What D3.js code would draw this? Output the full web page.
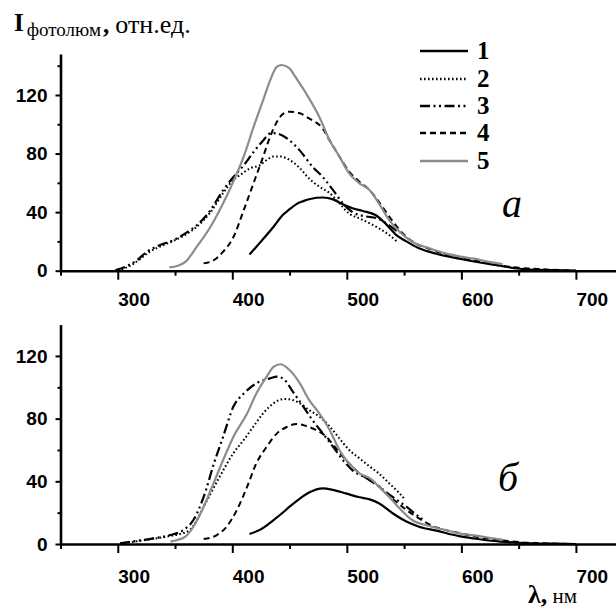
<!DOCTYPE html>
<html>
<head>
<meta charset="utf-8">
<script src="https://cdn.jsdelivr.net/npm/d3@7"></script>
<style>
body { margin: 0; background: #fff; }
svg { display: block; }
</style>
</head>
<body>
<div id="graph"></div>
<script>
// series labels and tick values
var seriesNames = ["1", "2", "3", "4", "5"]
var xTicks = [300, 400, 500, 600, 700]
var xMinor = [250, 350, 450, 550, 650]
var yTicks = [0, 40, 80, 120]
var yMinorA = [20, 60, 100, 140]
var yMinorB = [20, 60, 100]

// panel "a": [wavelength, intensity]
var a1 = [[415,11],[424,19],[436,30],[444,38],[450,42],[456,45.5],[462,47.5],[468,49],[479,50],[488,48.7],[496,45.5],[505,42.6],[514,40.8],[525,38],[534,32],[543,24.5],[552,20],[563,15.3],[578,11.6],[598,8.2],[611,6.3],[634,3.4],[649,1.5],[669,0.5],[692,0.2],[700,0]]
var a2 = [[300,0.3],[310,3],[318,7],[326,12],[337,16.5],[349,20.5],[360,25],[369,30],[381,40],[392,53],[401,62],[408,66],[415.6,70],[424,72],[430,75.6],[436,78],[442,78],[450,75.6],[459,70],[467,63],[476,57.4],[485,53],[493.5,46],[502,39],[511,35.7],[520,32.3],[528,29],[537,24.4],[544,19.8]]
var a3 = [[298,0.5],[308,3.2],[317,7.3],[325.5,13],[337,17.5],[349,21],[360,26],[369,31],[381,41.4],[392,55],[401,64],[410,72],[418.5,81],[427,89],[434,94],[440,93.5],[450,89],[459,82],[470,71],[479,64],[488,55],[496.5,46],[505,40],[517,37],[525.5,36],[537,31],[546,25.5]]
var a4 = [[375,5],[384,7.3],[392,13],[401,23],[410,41.4],[418.5,59.7],[427,78],[433,91.5],[439,101.8],[445,107.5],[450,108.6],[459,107.5],[467,104],[479,97],[485,89],[493.5,78],[502,67.6],[511,60.8],[520,55],[528,47],[537,37],[546,27.8],[557,20],[572,15],[598,8.6],[611,7],[634,3.5],[650,2],[670,1],[700,0]]
var a5 = [[345,2.3],[352,3.2],[359,6],[369,16.4],[381,30],[392,46],[401,61],[410,78],[418.5,98],[427,116.6],[433,130],[439,139.3],[443,140.5],[450,138.2],[454,133.6],[464.5,121],[476,105],[485,89],[493.5,78],[502,66.5],[511,59.7],[520,55],[528,46],[537,34.6],[546,26.6],[557,19.8],[572,15.3],[586,11.8],[598,9.8],[611,8.2],[623,6.2],[636,4.6]]

// panel "б"
var b1 = [[415,6.4],[424,9],[436,15.3],[445,20.6],[450,23.8],[459,29],[467,32.8],[479,35.5],[488,34.5],[499,32.3],[511,29.8],[520,28.5],[528,26],[540,19.6],[552,14.3],[563,11],[578,8.5],[598,5],[611,3.5],[634,1.5],[650,0.8],[680,0.2],[700,0]]
var b2 = [[302,0.3],[317,1.8],[331,3.3],[346,5.2],[355,6.5],[363,9],[378,28],[389,43],[401,58],[410,66.4],[418.5,75],[427,83.4],[436,89.8],[445,92.5],[450,92.3],[459,89.8],[467,85.5],[476,81.3],[485,75],[493.5,67.4],[502,60],[511,54.7],[520,49.4],[528,45],[537,38.7],[546,32.3],[550,29]]
var b3 = [[302,0.4],[317,2],[331,3.6],[346,5.7],[357.5,9],[366,15.3],[375,30],[384,51.5],[392,68.5],[401,87.7],[410,96],[421,102.5],[433,105.7],[439,106.8],[445,105.2],[453,97],[462,87.7],[470,79],[479,70.6],[488,62],[496.5,53.6],[505,47],[517,42],[528,36.6],[540,30],[552,23.8],[563,17.4],[566,16]]
var b4 = [[375,3.2],[386.5,5.7],[395,11],[404,21.7],[413,36.6],[421,51.5],[430,62],[439,70.6],[447,74.5],[456,76.6],[464.5,75.3],[473,72.8],[482,68.5],[490.6,61],[499,53.6],[508,47],[517,42],[525.5,38.7],[534,32.3],[543,27],[552,21.7],[563,16.4],[572,12.5],[598,7],[611,5],[634,2.5],[650,1.2],[670,0.5],[700,0]]
var b5 = [[346,1.5],[352,2.6],[359,4.7],[366,11],[375,23.8],[383.6,38.7],[392,53.6],[401,68.5],[413,83.4],[421,96],[430,106.8],[436,113],[442,114.7],[450,111],[459,102.5],[467,92],[476,83.4],[485,72.8],[493.5,60],[502,51.5],[511,45],[520,42],[528,36.6],[537,30],[546,22.8],[557,15.3],[572,11.5],[586,8.9],[598,6.8],[611,5.5],[634,3],[636,2.8]]

var width = 616, height = 611
var svg = d3.select("#graph").append("svg").attr("width", width).attr("height", height)

var styles = [
    {stroke: "#000", dash: null, w: 2.2},
    {stroke: "#000", dash: "1.6,2.4", w: 2},
    {stroke: "#000", dash: "10,3.5,2,3.5,2,3.5", w: 2.2},
    {stroke: "#000", dash: "6,4", w: 2},
    {stroke: "#8c8c8c", dash: null, w: 2.2}
]

var tickFont = "bold 19px 'Liberation Sans', Arial, sans-serif"

var x = d3.scaleLinear().domain([250, 735]).range([60.5, 616])

function drawPanel(p) {
    var g = svg.append("g")
    var y = p.y

    // curves
    var line = d3.line()
        .x(function(d) { return x(d[0]) })
        .y(function(d) { return y(d[1]) })
        .curve(d3.curveMonotoneX)

    g.selectAll("path.curve")
        .data(p.series)
        .enter().append("path")
        .attr("class", "curve")
        .attr("d", line)
        .attr("fill", "none")
        .attr("stroke", function(d, i) { return styles[i].stroke })
        .attr("stroke-width", function(d, i) { return styles[i].w })
        .attr("stroke-dasharray", function(d, i) { return styles[i].dash })

    // x axis, minor ticks first
    g.append("g")
        .attr("transform", "translate(0," + y(0) + ")")
        .call(d3.axisBottom(x).tickValues(xMinor).tickSize(5).tickSizeOuter(0).tickFormat(""))
        .call(function(a) { a.select(".domain").remove() })
        .selectAll("line").attr("stroke-width", 2)

    var xa = g.append("g")
        .attr("transform", "translate(0," + y(0) + ")")
        .call(d3.axisBottom(x).tickValues(xTicks).tickSize(9).tickSizeOuter(0))
    xa.select(".domain").attr("stroke-width", 2.6)
    xa.selectAll("line").attr("stroke-width", 2)
    xa.selectAll("text")
        .attr("y", p.xLabelY)
        .attr("dy", null)
        .attr("x", 0)
        .attr("text-anchor", "start")
        .style("font", tickFont)

    // y axis
    g.append("g")
        .attr("transform", "translate(" + x(250) + ",0)")
        .call(d3.axisLeft(y).tickValues(p.yMinor).tickSize(3).tickSizeOuter(0).tickFormat(""))
        .call(function(a) { a.select(".domain").remove() })
        .selectAll("line").attr("stroke-width", 2)

    var ya = g.append("g")
        .attr("transform", "translate(" + x(250) + ",0)")
        .call(d3.axisLeft(y).tickValues(yTicks).tickSize(5).tickPadding(8).tickSizeOuter(0))
    ya.select(".domain").attr("stroke-width", 2.6)
    ya.selectAll("line").attr("stroke-width", 2)
    ya.selectAll("text")
        .style("font", tickFont)

    // panel letter
    g.append("text")
        .attr("x", p.letterX).attr("y", p.letterY)
        .style("font", "italic 40px 'Liberation Serif', 'Times New Roman', serif")
        .text(p.letter)
}

drawPanel({
    y: d3.scaleLinear().domain([0, 148]).range([270.7, 54]),
    series: [a1, a2, a3, a4, a5],
    yMinor: yMinorA,
    xLabelY: 35,
    letter: "a", letterX: 502, letterY: 217
})

drawPanel({
    y: d3.scaleLinear().domain([0, 140]).range([544, 324.6]),
    series: [b1, b2, b3, b4, b5],
    yMinor: yMinorB,
    xLabelY: 39,
    letter: "б", letterX: 498, letterY: 491
})

// legend
var legendY = [51, 79, 106, 133, 161]
var legend = svg.append("g").selectAll("g")
    .data(seriesNames)
    .enter().append("g")
    .attr("transform", function(d, i) { return "translate(0," + legendY[i] + ")" })

legend.append("line")
    .attr("x1", 420).attr("x2", 468)
    .attr("stroke", function(d, i) { return styles[i].stroke })
    .attr("stroke-width", function(d, i) { return styles[i].w + 0.3 })
    .attr("stroke-dasharray", function(d, i) { return styles[i].dash })

legend.append("text")
    .attr("x", 477).attr("y", 8)
    .style("font", "bold 25px 'Liberation Serif', 'Times New Roman', serif")
    .text(function(d) { return d })

// y title
var title = svg.append("text").attr("y", 31)
    .style("font-family", "'Liberation Serif', 'Times New Roman', serif")
title.append("tspan").attr("x", 14).style("font-weight", "bold").style("font-size", "25px").text("I")
title.append("tspan").attr("dx", 3).attr("dy", 5).style("font-size", "19px").text("фотолюм")
title.append("tspan").attr("dx", 2).attr("dy", -3).style("font-size", "25px").style("font-weight", "bold").text(",")
title.append("tspan").attr("dx", 6).style("font-size", "26px").text("отн.ед.")

// x title
var xt = svg.append("text").attr("x", 528).attr("y", 603)
    .style("font-family", "'Liberation Serif', 'Times New Roman', serif")
xt.append("tspan").style("font-weight", "bold").style("font-size", "26px").text("λ,")
xt.append("tspan").style("font-size", "21px").text(" нм")
</script>
</body>
</html>
